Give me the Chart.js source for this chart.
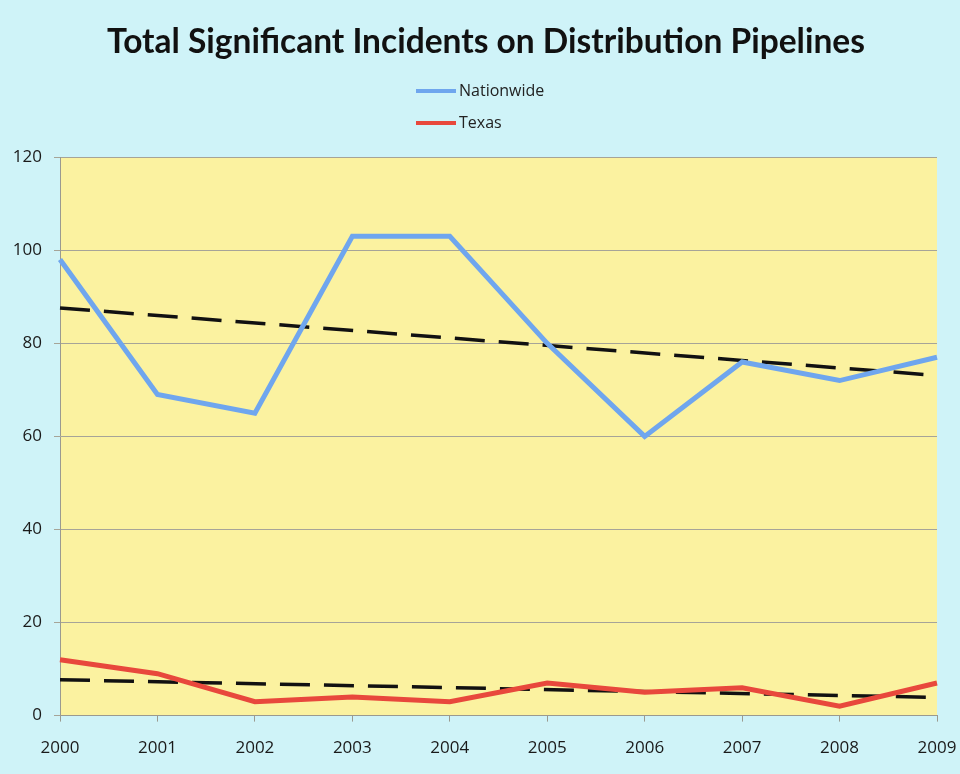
<!DOCTYPE html>
<html>
<head>
<meta charset="utf-8">
<script src="https://cdn.jsdelivr.net/npm/chart.js@4/dist/chart.umd.min.js"></script>
<style>
  html, body { margin: 0; padding: 0; background: #cff3f8; }
  #wrap { width: 960px; height: 774px; }
</style>
</head>
<body>
<div id="wrap"><canvas id="c" width="960" height="774"></canvas></div>
<script>
const years = ['2000','2001','2002','2003','2004','2005','2006','2007','2008','2009'];
const nationwide = [98, 69, 65, 103, 103, 80, 60, 76, 72, 77];
const texas = [12, 9, 3, 4, 3, 7, 5, 6, 2, 7];
// trend line endpoints (2000 and 2009)
const nationwideTrend = [87.6, null, null, null, null, null, null, null, null, 73.1];
const texasTrend = [7.7, null, null, null, null, null, null, null, null, 3.9];
const yTicks = [0, 20, 40, 60, 80, 100, 120];

const bgPlugin = {
  id: 'bg',
  beforeDraw(chart) {
    const {ctx, chartArea: a} = chart;
    ctx.save();
    ctx.fillStyle = '#cff3f8';
    ctx.fillRect(0, 0, chart.width, chart.height);
    ctx.fillStyle = '#fbf2a0';
    ctx.fillRect(a.left, a.top, a.right - a.left, a.bottom - a.top);
    ctx.restore();
  }
};

const legendPlugin = {
  id: 'customLegend',
  afterDraw(chart) {
    const ctx = chart.ctx;
    const items = [
      {label: 'Nationwide', color: chart.data.datasets[0].borderColor, y: 91},
      {label: 'Texas', color: chart.data.datasets[1].borderColor, y: 123}
    ];
    ctx.save();
    ctx.font = '16px "Open Sans", sans-serif';
    ctx.textBaseline = 'middle';
    items.forEach(it => {
      ctx.strokeStyle = it.color;
      ctx.lineWidth = 4;
      ctx.beginPath();
      ctx.moveTo(416, it.y);
      ctx.lineTo(456, it.y);
      ctx.stroke();
      ctx.fillStyle = '#222';
      ctx.fillText(it.label, 459, it.y);
    });
    ctx.restore();
  }
};

new Chart(document.getElementById('c'), {
  type: 'line',
  data: {
    labels: years,
    datasets: [
      {label: 'Nationwide', data: nationwide, borderColor: '#6fa6ee', borderWidth: 5, pointRadius: 0, tension: 0},
      {label: 'Texas', data: texas, borderColor: '#e8483c', borderWidth: 5, pointRadius: 0, tension: 0},
      {label: 'Nationwide trend', data: nationwideTrend, spanGaps: true, borderColor: '#111', borderWidth: 3.5, borderDash: [30, 14], pointRadius: 0},
      {label: 'Texas trend', data: texasTrend, spanGaps: true, borderColor: '#111', borderWidth: 3.5, borderDash: [30, 14], pointRadius: 0}
    ]
  },
  options: {
    responsive: false,
    animation: false,
    layout: {padding: {left: 12, right: 0, top: 0, bottom: 0}},
    plugins: {
      legend: {display: false},
      tooltip: {enabled: false},
      title: {
        display: true,
        text: 'Total Significant Incidents on Distribution Pipelines',
        color: '#111',
        font: {family: 'Lato, "Open Sans", sans-serif', size: 33.5, weight: 'bold'},
        padding: {top: 22, bottom: 95}
      }
    },
    scales: {
      x: {
        offset: false,
        afterFit(axis) { axis.paddingLeft = 0; axis.paddingRight = 23; },
        grid: {display: true, drawOnChartArea: false, drawTicks: true, tickLength: 6, color: '#9a9a90'},
        border: {color: '#9a9a90'},
        ticks: {color: '#1a1a1a', font: {family: '"Open Sans", sans-serif', size: 17}, padding: 16, maxRotation: 0}
      },
      y: {
        min: 0, max: 120,
        afterBuildTicks(axis) { axis.ticks = yTicks.map(v => ({value: v})); },
        afterFit(axis) { axis.width = 48; },
        grid: {color: '#a6a498', lineWidth: 1, tickLength: 6},
        border: {color: '#9a9a90'},
        ticks: {color: '#1a1a1a', font: {family: '"Open Sans", sans-serif', size: 17}, padding: 12}
      }
    }
  },
  plugins: [bgPlugin, legendPlugin]
});
</script>
</body>
</html>
